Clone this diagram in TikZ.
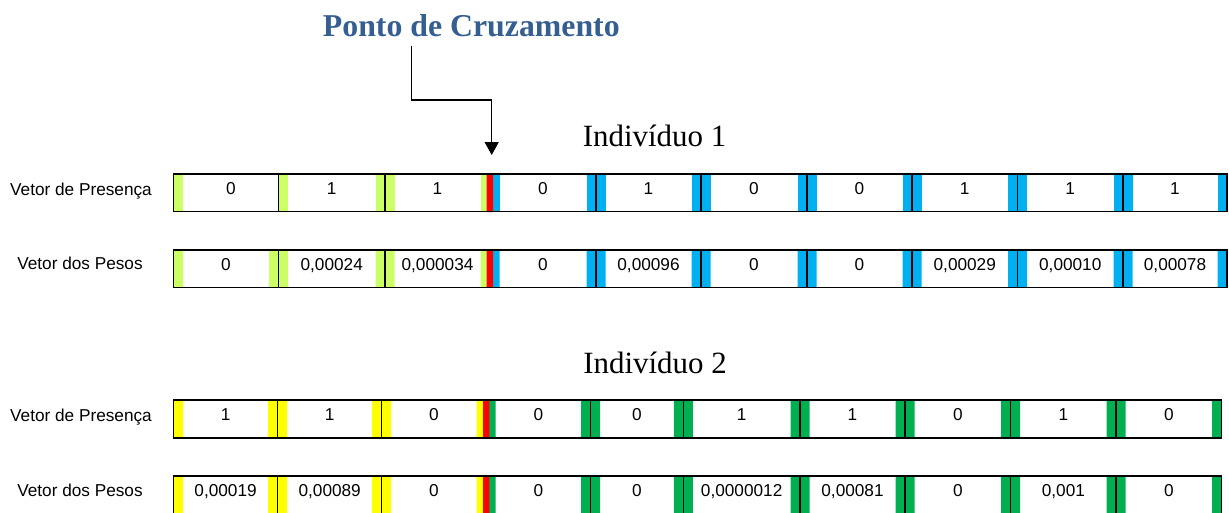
\documentclass[tikz,border=0pt]{standalone}
\usepackage{fontspec}
\setmainfont{Liberation Serif}
\newfontfamily\arial{Liberation Sans}
\usetikzlibrary{arrows.meta}

\definecolor{verdeclaro}{RGB}{204,255,102}
\definecolor{azul}{RGB}{0,176,240}
\definecolor{amarelo}{RGB}{255,255,0}
\definecolor{verde}{RGB}{0,176,80}
\definecolor{vermelho}{RGB}{255,0,0}
\definecolor{titulo}{RGB}{54,95,145}

\tikzset{
  gene/.style={font=\arial\fontsize{9.8}{11}\selectfont, inner sep=0pt, anchor=base},
  individuo/.style={font=\fontsize{17.6}{20}\selectfont, inner sep=0pt, anchor=base},
  borda/.style={black, line width=0.8pt},
  seta/.style={black, line width=0.6pt, -{Triangle[length=7.4pt,width=8pt]}}
}

% limites das celulas de cada individuo
\def\indum{173.5/278.5/verdeclaro,278.5/385/verdeclaro,385/490/verdeclaro,490/596/azul,596/701/azul,701/807/azul,807/912/azul,912/1017.5/azul,1017.5/1123/azul,1123/1227/azul}
\def\inddois{173.5/277.7/amarelo,277.7/381.7/amarelo,381.7/486/amarelo,486/590.7/verde,590.7/683.3/verde,683.3/800/verde,800/905/verde,905/1010.7/verde,1010.7/1116/verde,1116/1221.7/verde}

\begin{document}
\begin{tikzpicture}[x=0.02cm, y=-0.02cm]
\useasboundingbox (0,0) rectangle (1229,512);

\node[font=\bfseries\fontsize{18.1}{21}\selectfont, text=titulo, inner sep=0pt, anchor=base] (ponto) at (471.3,36) {Ponto de Cruzamento};
\node[individuo] (ind1) at (654.5,146.7) {Indivíduo 1};
\node[individuo] (ind2) at (655,373.3) {Indivíduo 2};

% Individuo 1
\foreach \a/\b/\cor in \indum {
  \fill[\cor] (\a,250) rectangle ++(9.5,37) (\b,250) rectangle ++(-9.5,37);
  \fill[\cor] (\a,174) rectangle ++(9.5,38);
}
\foreach \a/\b/\cor in \indum {
  \ifdim\a pt>200pt \fill[\cor] (\b,174) rectangle ++(-9.5,38); \fi
}
\fill[vermelho] (486.7,174) rectangle (493,212) (486.7,250) rectangle (493,287);
\foreach \y in {174,250} {
  \draw[borda] (173.5,\y) rectangle (1227,\y+37.5);
  \foreach \x in {278.5,385,596,701,807,912,1017.5,1123}
    \draw[borda] (\x,\y) -- (\x,\y+37.5);
}

% Individuo 2
\foreach \a/\b/\cor in \inddois {
  \fill[\cor] (\a,400) rectangle ++(9.5,38) (\b,400) rectangle ++(-9.5,38);
  \fill[\cor] (\a,476) rectangle ++(9.5,38) (\b,476) rectangle ++(-9.5,38);
}
\fill[vermelho] (483,400) rectangle (489.3,438) (483,476) rectangle (489.3,514);
\foreach \y in {400,476} {
  \draw[borda] (173.5,\y) rectangle (1221.7,\y+38);
  \foreach \x in {277.7,381.7,590.7,683.3,800,905,1010.7,1116}
    \draw[borda] (\x,\y) -- (\x,\y+38);
}

% rotulos
\node[gene] (pres1) at (81,195) {Vetor de Presença};
\node[gene] (peso1) at (80,269.5) {Vetor dos Pesos};
\node[gene] (pres2) at (81,421.5) {Vetor de Presença};
\node[gene] (peso2) at (80,496) {Vetor dos Pesos};

% valores
\foreach \x/\v [count=\i] in {231/0,331.75/1,437.5/1,543/0,648.5/1,754/0,859.5/0,964.75/1,1070.25/1,1175/1}
  \node[gene] (p1-\i) at (\x,194) {\v};
\foreach \x/\v [count=\i] in {226/0,331.75/0{,}00024,437.5/0{,}000034,543/0,648.5/0{,}00096,754/0,859.5/0,964.75/0{,}00029,1070.25/0{,}00010,1175/0{,}00078}
  \node[gene] (w1-\i) at (\x,270) {\v};
\foreach \x/\v [count=\i] in {225.6/1,329.7/1,433.85/0,538.35/0,637/0,741.65/1,852.5/1,957.85/0,1063.35/1,1168.85/0}
  \node[gene] (p2-\i) at (\x,420) {\v};
\foreach \x/\v [count=\i] in {225.6/0{,}00019,329.7/0{,}00089,433.85/0,538.35/0,637/0,741.65/0{,}0000012,852.5/0{,}00081,957.85/0,1063.35/0{,}001,1168.85/0}
  \node[gene] (w2-\i) at (\x,496.5) {\v};

% seta do ponto de cruzamento
\coordinate (dobra) at (411.7,100);
\coordinate (corte) at (491.7,155);
\draw[seta, shorten <=0.18cm] (ponto.south -| dobra) -- (dobra) -| (corte);
\end{tikzpicture}
\end{document}
